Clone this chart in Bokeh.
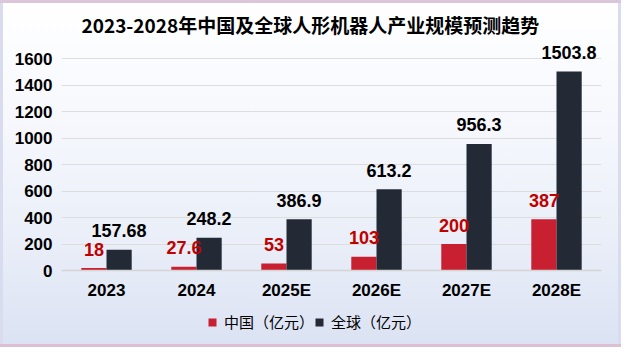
from bokeh.plotting import figure
from bokeh.layouts import column
from bokeh.models import (ColumnDataSource, FactorRange, Range1d, FixedTicker, LabelSet,
                          Legend, LegendItem, InlineStyleSheet)
from bokeh.transform import dodge
from bokeh.core.properties import value
from bokeh.embed import file_html
from bokeh.resources import INLINE

years = ["2023", "2024", "2025E", "2026E", "2027E", "2028E"]
china = [18, 27.6, 53, 103, 200, 387]
world = [157.68, 248.2, 386.9, 613.2, 956.3, 1503.8]
china_text = ["18", "27.6", "53", "103", "200", "387"]
world_text = ["157.68", "248.2", "386.9", "613.2", "956.3", "1503.8"]
y_ticks = [0, 200, 400, 600, 800, 1000, 1200, 1400, 1600]
title_text = "2023-2028年中国及全球人形机器人产业规模预测趋势"
series_names = ["中国（亿元）", "全球（亿元）"]
red, dark = "#c81f31", "#232935"

src = ColumnDataSource(dict(year=years, china=china, world=world,
                            china_text=china_text, world_text=world_text))

css = InlineStyleSheet(css="""
:host {
  background: linear-gradient(to bottom, #ffffff 0%, #f6f8fd 35%, #e9eef8 70%, #dbe2f3 100%);
  box-shadow: inset 0 3px 0 0 #dcc6da, inset 0 -3px 0 0 #dcbfd3, inset 3px 0 0 0 #d9dcef, inset -3px 0 0 0 #d9dcef;
}
""")

p = figure(width=621, height=310, x_range=FactorRange(*years), y_range=Range1d(0, 1700),
           output_backend="svg", toolbar_location=None,
           min_border_left=61, min_border_right=20, min_border_top=45, min_border_bottom=40)
p.border_fill_alpha = 0
p.background_fill_alpha = 0
p.outline_line_color = None

p.title.text = title_text
p.title.align = "left"
p.title.offset = 20
p.title.standoff = 15
p.title.text_font = "Noto Sans CJK SC"
p.title.text_font_style = "bold"
p.title.text_font_size = "19px"
p.title.text_color = "#000000"

p.vbar(x=dodge("year", -0.14, range=p.x_range), top="china", width=0.28, source=src,
       fill_color=red, line_color=None)
p.vbar(x=dodge("year", 0.14, range=p.x_range), top="world", width=0.28, source=src,
       fill_color=dark, line_color=None)

lab_font = value("Liberation Sans")
p.add_layout(LabelSet(x=dodge("year", -0.14, range=p.x_range), y="china", text="china_text",
                      source=src, y_offset=19, text_align="center", text_baseline="middle",
                      text_font=lab_font, text_font_style="bold", text_font_size="18px",
                      text_color="#c00000"))
p.add_layout(LabelSet(x=dodge("year", 0.14, range=p.x_range), y="world", text="world_text",
                      source=src, y_offset=19, text_align="center", text_baseline="middle",
                      text_font=lab_font, text_font_style="bold", text_font_size="18px",
                      text_color="#000000"))

p.yaxis.ticker = FixedTicker(ticks=y_ticks)
p.yaxis.axis_line_color = None
p.yaxis.major_tick_line_color = None
p.yaxis.minor_tick_line_color = None
p.yaxis.major_label_standoff = 3
p.yaxis.major_label_text_font = "Liberation Sans"
p.yaxis.major_label_text_font_style = "bold"
p.yaxis.major_label_text_font_size = "17px"
p.yaxis.major_label_text_color = "#000000"

p.xaxis.axis_line_color = "#d4d4d4"
p.xaxis.axis_line_width = 1.5
p.xaxis.major_tick_line_color = None
p.xaxis.minor_tick_line_color = None
p.xaxis.major_label_standoff = 4
p.xaxis.major_label_text_font = "Liberation Sans"
p.xaxis.major_label_text_font_style = "bold"
p.xaxis.major_label_text_font_size = "17px"
p.xaxis.major_label_text_color = "#000000"

p.xgrid.grid_line_color = None
p.ygrid.grid_line_color = "#dddddd"
p.ygrid.grid_line_width = 1

# legend strip below the chart
lf = figure(width=621, height=37, x_range=Range1d(0, 1), y_range=Range1d(0, 1),
            x_axis_type=None, y_axis_type=None, output_backend="svg", toolbar_location=None,
            min_border=0)
lf.border_fill_alpha = 0
lf.background_fill_alpha = 0
lf.outline_line_color = None
lf.grid.visible = False
g1 = lf.vbar(x=[-5], top=[-5], width=0.1, fill_color=red, line_color=None)
g2 = lf.vbar(x=[-5], top=[-5], width=0.1, fill_color=dark, line_color=None)
legend = Legend(items=[LegendItem(label=series_names[0], renderers=[g1]),
                       LegendItem(label=series_names[1], renderers=[g2])],
                orientation="horizontal", location=(146, 15),
                glyph_width=10, glyph_height=10, label_standoff=7, spacing=0,
                padding=2, margin=0,
                label_text_font="Noto Sans CJK SC", label_text_font_size="15px",
                label_text_color="#000000",
                background_fill_alpha=0, border_line_color=None)
lf.add_layout(legend, "center")

layout = column(p, lf, spacing=0, stylesheets=[css])
open("out.html", "w").write(file_html(layout, INLINE))
